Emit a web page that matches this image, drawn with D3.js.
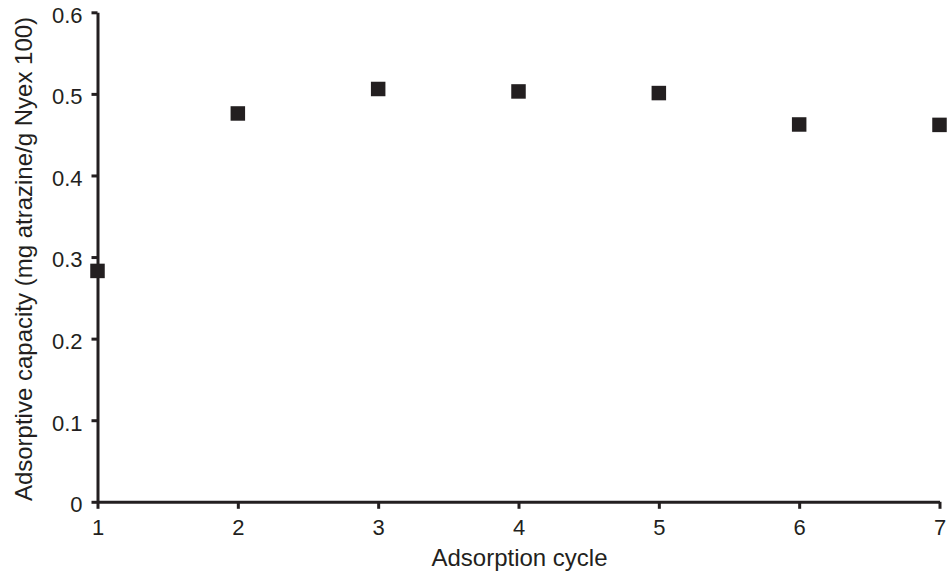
<!DOCTYPE html>
<html><head><meta charset="utf-8">
<script src="https://cdn.jsdelivr.net/npm/d3@7"></script>
<style>body{margin:0;background:#fff}svg{display:block}</style>
</head><body>
<script>
const cycles = [1, 2, 3, 4, 5, 6, 7];
const capacity = [0.283, 0.476, 0.506, 0.503, 0.501, 0.4625, 0.462];
const xTicks = [1, 2, 3, 4, 5, 6, 7];
const yTicks = [0, 0.1, 0.2, 0.3, 0.4, 0.5, 0.6];
const xTitle = "Adsorption cycle";
const yTitle = "Adsorptive capacity (mg atrazine/g Nyex 100)";

const W = 948, H = 579;
const ink = "#231f20";
const svg = d3.select("body").append("svg").attr("width", W).attr("height", H);
const x = d3.scaleLinear().domain([1, 7]).range([97.5, 939.5]);
const y = d3.scaleLinear().domain([0, 0.6]).range([501.8, 12.3]);

const font = "'Liberation Sans', Arial, sans-serif";

const gx = svg.append("g").attr("transform", `translate(0,${y(0)})`)
  .call(d3.axisBottom(x).tickValues(xTicks).tickFormat(d3.format("d")).tickSize(7).tickPadding(11).tickSizeOuter(0));
const gy = svg.append("g").attr("transform", `translate(${x(1)},0)`)
  .call(d3.axisLeft(y).tickValues(yTicks).tickFormat(d => d === 0 ? "0" : d3.format(".1f")(d)).tickSize(6).tickPadding(9).tickSizeOuter(0));

[gx, gy].forEach(g => {
  g.attr("font-size", null).attr("font-family", null);
  g.select(".domain").attr("stroke", ink).attr("stroke-width", 3);
  g.selectAll(".tick line").attr("stroke", ink).attr("stroke-width", 3);
  g.selectAll(".tick text").attr("fill", ink).style("font-family", font).style("font-size", "22px");
});
gy.selectAll(".tick text").attr("dy", "0.45em");

svg.append("text").attr("x", 519.5).attr("y", 566)
  .attr("text-anchor", "middle").attr("fill", ink)
  .style("font-family", font).style("font-size", "24px").text(xTitle);
svg.append("text").attr("transform", `translate(32,259) rotate(-90)`)
  .attr("text-anchor", "middle").attr("fill", ink)
  .style("font-family", font).style("font-size", "24px").text(yTitle);

const s = 14.5;
svg.append("g").selectAll("rect").data(cycles).join("rect")
  .attr("x", (d) => x(d) - s / 2)
  .attr("y", (d, i) => y(capacity[i]) - s / 2)
  .attr("width", s).attr("height", s)
  .attr("fill", ink);
</script>
</body></html>
